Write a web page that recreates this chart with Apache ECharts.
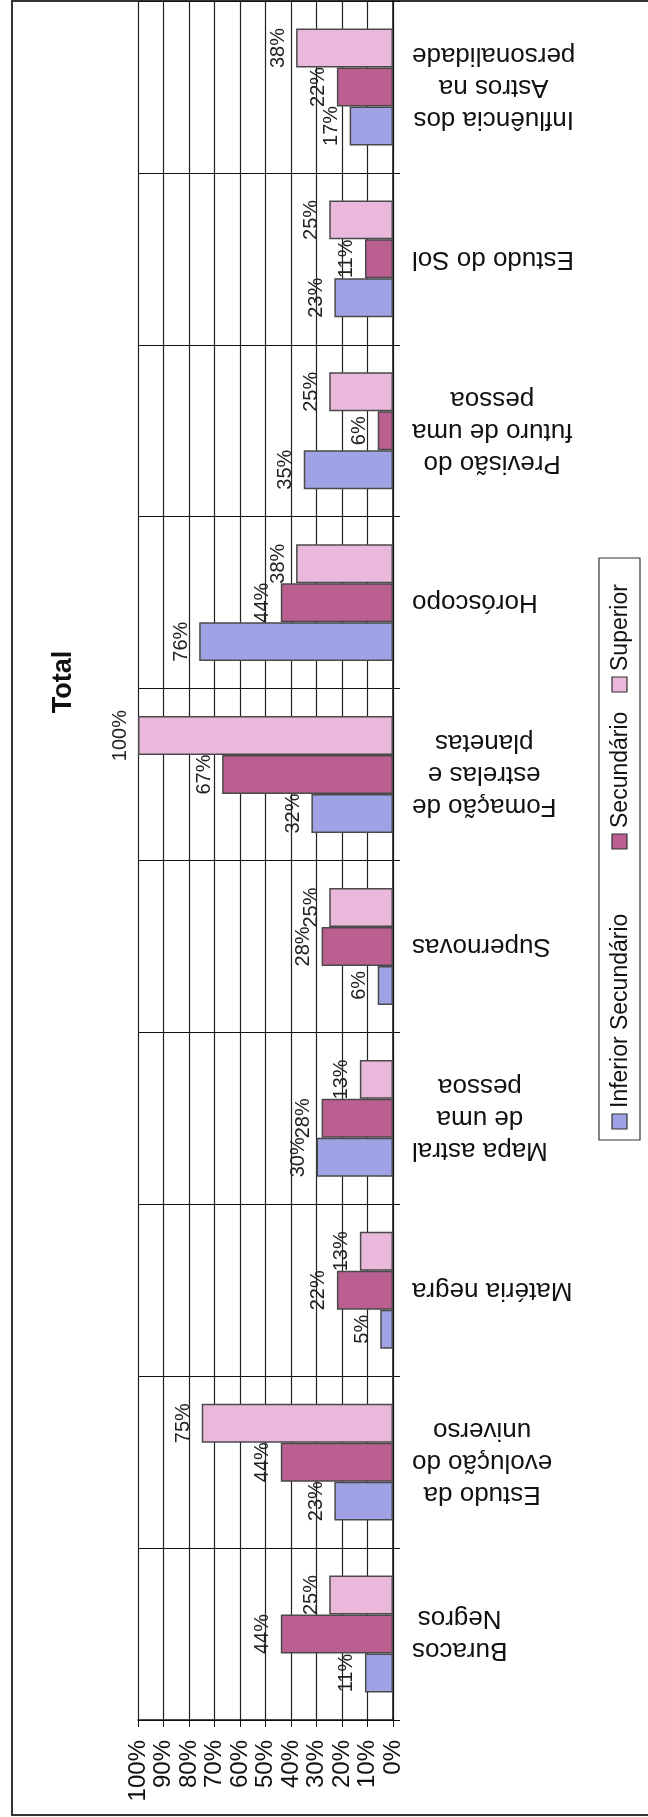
<!DOCTYPE html>
<html>
<head>
<meta charset="utf-8">
<title>Total</title>
<script src="https://cdn.jsdelivr.net/npm/echarts@6/dist/echarts.min.js"></script>
<style>
html, body { margin: 0; padding: 0; background: #fff; }
#main { width: 648px; height: 1817px; }
</style>
</head>
<body>
<div id="main"></div>
<script>
// dados do gráfico (a página digitalizada está rodada: categorias de baixo para cima)
var categorias = ['Buracos\nNegros', 'Estudo da\nevolução do\nuniverso', 'Matéria negra',
    'Mapa astral\nde uma\npessoa', 'Supernovas', 'Fomação de\nestrelas e\nplanetas',
    'Horóscopo', 'Previsão do\nfuturo de uma\npessoa', 'Estudo do Sol',
    'Influência dos\nAstros na\npersonalidade'];
var inferior = [11, 23, 5, 30, 6, 32, 76, 35, 23, 17];
var secundario = [44, 44, 22, 28, 28, 67, 44, 6, 11, 22];
var superior = [25, 75, 13, 13, 25, 100, 38, 25, 25, 38];
var nomes = ['Inferior Secundário', 'Secundário', 'Superior'];
var cores = ['#9fa2e4', '#bb5e90', '#eab8da'];
var eixoMin = 0, eixoMax = 100, eixoPasso = 10;

var fonte = '"Liberation Sans", Arial, sans-serif';
var myChart = echarts.init(document.getElementById('main'));

function serie(nome, dados, cor) {
    return {
        name: nome,
        type: 'bar',
        data: dados,
        barGap: '0%',
        barCategoryGap: '32%',
        itemStyle: { color: cor, borderColor: '#4a4a4a', borderWidth: 1.5 },
        label: {
            show: true,
            position: 'left',
            distance: 8,
            rotate: 90,
            align: 'center',
            verticalAlign: 'bottom',
            formatter: '{c}%',
            fontSize: 20,
            fontFamily: fonte,
            color: '#222'
        }
    };
}

// legenda desenhada à mão porque o texto tem de ficar rodado
var legenda = [
    { type: 'rect', silent: true, shape: { x: 599, y: 558, width: 41, height: 582 },
      style: { fill: '#fff', stroke: '#333', lineWidth: 1.2 } }
];
var posLegenda = [1122, 842, 685];
nomes.forEach(function (n, i) {
    legenda.push({ type: 'rect', silent: true,
        shape: { x: 612, y: posLegenda[i] - 8, width: 15, height: 15 },
        style: { fill: cores[i], stroke: '#333', lineWidth: 1.2 } });
    legenda.push({ type: 'text', silent: true, x: 621, y: posLegenda[i] - 14, rotation: Math.PI / 2,
        style: { text: n, font: '23px ' + fonte, fill: '#111', align: 'left', verticalAlign: 'middle' } });
});

var option = {
    backgroundColor: '#fff',
    animation: false,
    textStyle: { fontFamily: fonte },
    grid: { left: 138, right: 255, top: 1, bottom: 97 },
    xAxis: {
        type: 'value',
        inverse: true,
        min: eixoMin,
        max: eixoMax,
        interval: eixoPasso,
        position: 'bottom',
        axisLine: { show: true, lineStyle: { color: '#111', width: 1.5 } },
        axisTick: { show: true, length: 7, lineStyle: { color: '#111' } },
        splitLine: { show: true, lineStyle: { color: '#222', width: 1.2 } },
        axisLabel: { rotate: 90, margin: 20, fontSize: 24, color: '#111', formatter: '{value}%' }
    },
    yAxis: {
        type: 'category',
        data: categorias,
        position: 'right',
        axisLine: { show: true, lineStyle: { color: '#111', width: 1.5 } },
        axisTick: { show: true, length: 7, lineStyle: { color: '#111' } },
        splitLine: { show: true, lineStyle: { color: '#111', width: 1.2 } },
        axisLabel: {
            interval: 0,
            rotate: 180,
            align: 'right',
            verticalAlign: 'middle',
            margin: 19,
            color: '#111',
            fontSize: 26,
            lineHeight: 32,
            formatter: function (v) {
                return v.split('\n').map(function (l) { return '{c|' + l + '}'; }).join('\n');
            },
            rich: { c: { align: 'center', fontSize: 26, lineHeight: 32, color: '#111' } }
        }
    },
    // a primeira série fica em cima em barras horizontais, por isso a ordem inverte-se
    series: [
        serie(nomes[2], superior, cores[2]),
        serie(nomes[1], secundario, cores[1]),
        serie(nomes[0], inferior, cores[0])
    ],
    graphic: [
        { type: 'rect', silent: true, z: -10, shape: { x: 12, y: 1, width: 700, height: 1814 },
          style: { fill: 'none', stroke: '#333', lineWidth: 2 } },
        { type: 'text', silent: true, x: 64, y: 682, rotation: Math.PI / 2,
          style: { text: 'Total', font: 'bold 27px ' + fonte, fill: '#111', align: 'center', verticalAlign: 'middle' } }
    ].concat(legenda)
};

myChart.setOption(option);
</script>
</body>
</html>
